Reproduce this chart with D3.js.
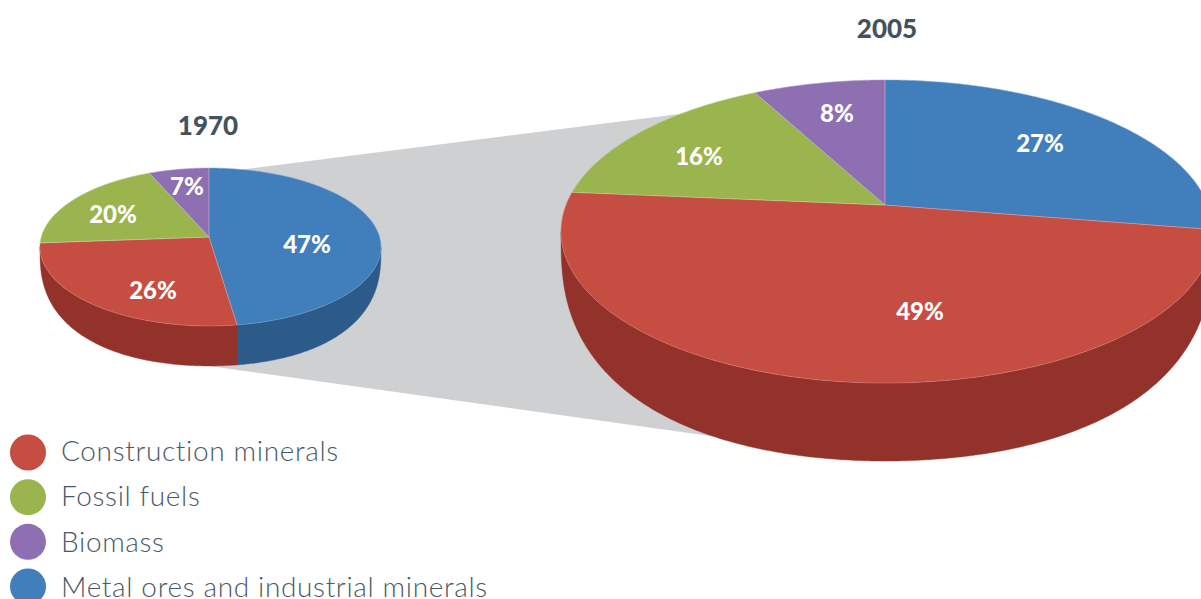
<!DOCTYPE html>
<html><head><meta charset="utf-8">
<script src="https://cdn.jsdelivr.net/npm/d3@7/dist/d3.min.js"></script>
<style>html,body{margin:0;padding:0;background:#fff;overflow:hidden}</style></head>
<body><svg id="c" width="1201" height="599" style="display:block"></svg>
<script>
const categories = ["Metal ores and industrial minerals","Construction minerals","Fossil fuels","Biomass"];
// slice sizes as they are drawn in the picture (% of the circle)
const shares1970 = [47.7,26.1,19.7,6.5];
const shares2005 = [27.6,48.8,15.8,7.8];
// printed labels
const labels1970 = ["47%","26%","20%","7%"];
const labels2005 = ["27%","49%","16%","8%"];
const years = ["1970","2005"];
const legendOrder = ["Construction minerals","Fossil fuels","Biomass","Metal ores and industrial minerals"];
const topColors = {"Metal ores and industrial minerals":"#407fbb","Construction minerals":"#c64d41","Fossil fuels":"#9ab44e","Biomass":"#8e6fb1"};
const sideColors = {"Metal ores and industrial minerals":"#2c5b8a","Construction minerals":"#92322a","Fossil fuels":"#6f8336","Biomass":"#65487f"};

const svg = d3.select("#c");
const FONT = "Lato, 'Open Sans', sans-serif";
const pieGen = d3.pie().sort(null).value(d=>d);

function makeProj(g){
  return (a,wall=false)=>{
    const u=Math.sin(a), v=-Math.cos(a), w=1-g.k*v;
    const X=g.x+(u>0?g.AR:g.AL)*u/w, Y=g.y+g.B*v/w;
    if(!wall) return [X,Y];
    const t=Math.min(1,Math.abs(X-g.ecx)/g.rx);
    return [X,Y+g.depth*Math.pow(1-t*t*t*t,0.25)];
  };
}
const geoms = [
  {x:209,y:237,AL:167.7,AR:170.6,B:77.7,k:0.1266,ecx:210.5,rx:170.5,depth:40,values:shares1970,labels:labels1970,title:years[0],tx:208,ty:135,
   lpos:[[307,243],[153,289],[113,213],[187,185]]},
  {x:885,y:205,AL:319,AR:323,B:146.9,k:0.175,ecx:887,rx:326,depth:78,values:shares2005,labels:labels2005,title:years[1],tx:887,ty:38,
   lpos:[[1040,142],[920,310],[699,155],[837,112]]}
];
const line = d3.line();
function arcPts(p,a0,a1,wall=false){
  const n=Math.max(2,Math.ceil((a1-a0)/0.01));
  return d3.range(n+1).map(i=>p(a0+(a1-a0)*i/n,wall));
}
// connector
{
  const [a,b]=geoms; const pa=makeProj(a), pb=makeProj(b);
  const t1=pa(0.22), t2=pb(-0.8), b1=pa(Math.PI,true), b2=pb(Math.PI+0.47,true);
  svg.append("path").attr("d",line([t1,t2,b2,b1])+"Z").attr("fill","#cfd0d2");
}
geoms.forEach(g=>{
  const p=makeProj(g), arcs=pieGen(g.values);
  const G=svg.append("g");
  const aL=Math.PI/2+Math.asin(g.k), aR=Math.PI*1.5-Math.asin(g.k);
  arcs.forEach((d,i)=>{
    const a0=Math.max(d.startAngle,aL), a1=Math.min(d.endAngle,aR);
    if(a1<=a0) return;
    const top=arcPts(p,a0,a1), bot=arcPts(p,a0,a1,true).reverse();
    const c=sideColors[categories[i]];
    G.append("path").attr("d",line(top.concat(bot))+"Z").attr("fill",c).attr("stroke",c).attr("stroke-width",0.4);
  });
  arcs.forEach((d,i)=>{
    const pts=[[g.x,g.y]].concat(arcPts(p,d.startAngle,d.endAngle));
    const c=topColors[categories[i]];
    G.append("path").attr("d",line(pts)+"Z").attr("fill",c).attr("stroke",c).attr("stroke-width",0.4);
  });
  arcs.forEach((d,i)=>{
    const pts=[[g.x,g.y]].concat(arcPts(p,d.startAngle,d.endAngle));
    G.append("path").attr("d",line(pts)+"Z").attr("fill","none").attr("stroke","#fff").attr("stroke-opacity",0.25).attr("stroke-width",0.7);
  });
  arcs.forEach((d,i)=>{
    G.append("text").attr("x",g.lpos[i][0]).attr("y",g.lpos[i][1]).attr("text-anchor","middle").attr("dominant-baseline","central")
     .attr("font-family",FONT).attr("font-weight",900).attr("font-size",24).attr("fill","#fff").text(g.labels[i]);
  });
  svg.append("text").attr("x",g.tx).attr("y",g.ty).attr("text-anchor","middle").attr("font-family",FONT).attr("font-weight",900).attr("font-size",26).attr("fill","#44525e").text(g.title);
});
// legend
const ly=d3.scalePoint().domain(legendOrder).range([452.5,586.5]);
const lb=d3.scalePoint().domain(legendOrder).range([461,597]);
legendOrder.forEach(c=>{
  svg.append("circle").attr("cx",28).attr("cy",ly(c)).attr("r",18).attr("fill",topColors[c]);
  svg.append("text").attr("x",61).attr("y",lb(c)).attr("letter-spacing",0.65).attr("font-family",FONT).attr("font-weight",300).attr("font-size",28).attr("fill","#4a5966").text(c);
});
</script></body></html>
